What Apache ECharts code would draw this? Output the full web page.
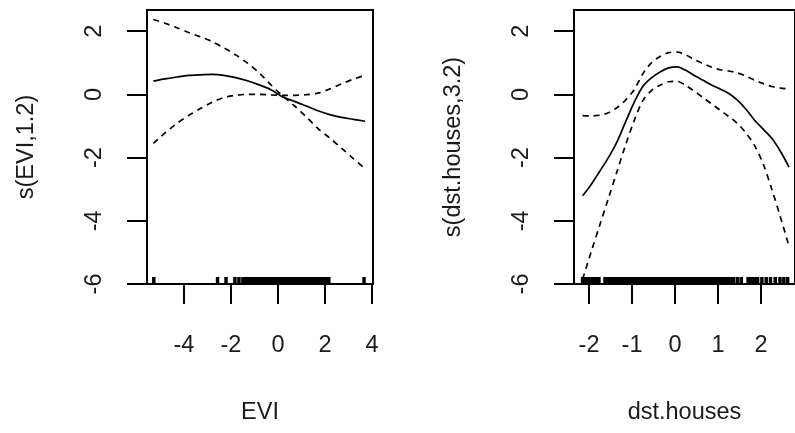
<!DOCTYPE html>
<html>
<head>
<meta charset="utf-8">
<script src="https://cdn.jsdelivr.net/npm/echarts@6/dist/echarts.min.js"></script>
<style>
  html, body { margin: 0; padding: 0; background: #fff; }
  #main { width: 795px; height: 433px; }
</style>
</head>
<body>
<div id="main"></div>
<script>
// left panel: s(EVI,1.2)
var eviX = [-5.3, -4.8, -4.3, -3.8, -3.3, -2.8, -2.3, -1.8, -1.3, -0.8, -0.3, 0.2, 0.7, 1.2, 1.7, 2.2, 2.7, 3.2, 3.7];
var eviFit = [0.42, 0.49, 0.55, 0.6, 0.62, 0.63, 0.6, 0.53, 0.43, 0.3, 0.15, -0.08, -0.22, -0.37, -0.52, -0.64, -0.73, -0.79, -0.85];
var eviUpper = [2.37, 2.25, 2.11, 1.96, 1.82, 1.67, 1.47, 1.25, 0.99, 0.68, 0.3, -0.05, -0.36, -0.71, -1.08, -1.38, -1.7, -2.03, -2.35];
var eviLower = [-1.55, -1.22, -0.92, -0.67, -0.45, -0.25, -0.1, -0.03, 0, 0, -0.02, -0.03, -0.03, -0.01, 0.04, 0.17, 0.33, 0.48, 0.6];
var eviRug = [-5.28, -2.57, -2.21, -1.83, -1.66,
  -1.49, -1.42, -1.35, -1.27, -1.2, -1.12, -1.05, -0.97, -0.9, -0.83, -0.75, -0.68, -0.6, -0.53,
  -0.45, -0.38, -0.3, -0.23, -0.15, -0.08, 0, 0.07, 0.15, 0.22, 0.3, 0.37, 0.45, 0.52, 0.6, 0.67,
  0.75, 0.82, 0.9, 0.97, 1.05, 1.12, 1.2, 1.27, 1.35, 1.42, 1.5, 1.57, 1.65, 1.72, 1.8, 1.87,
  1.95, 2.02, 2.1, 2.16, 3.66];
var eviTicks = [-4, -2, 0, 2, 4];

// right panel: s(dst.houses,3.2)
var dstX = [-2.15, -1.95, -1.75, -1.55, -1.35, -1.15, -0.95, -0.75, -0.55, -0.35, -0.15, 0.05, 0.25, 0.45, 0.65, 0.85, 1.05, 1.25, 1.45, 1.65, 1.85, 2.05, 2.25, 2.45, 2.65];
var dstFit = [-3.21, -2.85, -2.43, -2.0, -1.5, -0.87, -0.25, 0.25, 0.52, 0.71, 0.84, 0.87, 0.76, 0.6, 0.45, 0.3, 0.17, 0.03, -0.18, -0.47, -0.82, -1.1, -1.39, -1.8, -2.3];
var dstUpper = [-0.67, -0.68, -0.66, -0.58, -0.42, -0.18, 0.15, 0.65, 1.0, 1.2, 1.32, 1.34, 1.25, 1.1, 0.98, 0.86, 0.78, 0.74, 0.68, 0.58, 0.45, 0.34, 0.25, 0.2, 0.17];
var dstLower = [-5.85, -4.98, -4.13, -3.29, -2.44, -1.6, -0.83, -0.2, 0.12, 0.29, 0.4, 0.41, 0.28, 0.1, -0.1, -0.3, -0.5, -0.7, -0.92, -1.22, -1.62, -2.2, -3.0, -3.88, -4.8];
var dstRug = [-2.15, -2.1, -2.05, -2.0, -1.95, -1.9, -1.85, -1.8, -1.77,
  -1.63, -1.58, -1.53, -1.48, -1.43, -1.38, -1.33, -1.28, -1.23, -1.18, -1.13, -1.09,
  -1.03, -0.98, -0.93, -0.88, -0.83, -0.78, -0.73, -0.68, -0.63, -0.58, -0.53, -0.48, -0.43,
  -0.38, -0.33, -0.28, -0.23, -0.18, -0.13, -0.08, -0.03, 0.02, 0.07, 0.12, 0.17, 0.22, 0.27,
  0.32, 0.37, 0.42, 0.47, 0.52, 0.57, 0.62, 0.67, 0.72, 0.77, 0.82, 0.87, 0.92, 0.97, 1.02,
  1.07, 1.12, 1.17, 1.22, 1.27, 1.32, 1.36,
  1.45, 1.54, 1.7, 1.75, 1.8, 1.85, 1.92, 2.02, 2.12, 2.22, 2.33, 2.44, 2.53, 2.62];
var dstTicks = [-2, -1, 0, 1, 2];

var yTicks = [-6, -4, -2, 0, 2];

var FONT = '"Liberation Sans", Arial, sans-serif';
var TEXT = '#1a1a1a';

function pairs(xs, ys) {
  var out = [];
  for (var i = 0; i < xs.length; i++) {
    out.push([xs[i], ys[i]]);
  }
  return out;
}

function rugPoints(xs) {
  var out = [];
  for (var i = 0; i < xs.length; i++) {
    out.push([xs[i], -6]);
  }
  return out;
}

function xAxisFor(gridIndex, min, max, ticks, name) {
  return {
    type: 'value',
    gridIndex: gridIndex,
    min: min,
    max: max,
    name: name,
    nameLocation: 'middle',
    nameGap: 117,
    nameTextStyle: { fontFamily: FONT, fontSize: 23.5, color: TEXT },
    axisLine: { show: false, onZero: false },
    splitLine: { show: false },
    axisTick: {
      show: true,
      length: 20,
      customValues: ticks,
      lineStyle: { color: '#000', width: 2 }
    },
    axisLabel: {
      customValues: ticks,
      margin: 50,
      fontFamily: FONT,
      fontSize: 23.5,
      color: TEXT
    }
  };
}

function yAxisFor(gridIndex, name) {
  return {
    type: 'value',
    gridIndex: gridIndex,
    min: -6,
    max: 2.67,
    name: name,
    nameLocation: 'middle',
    nameGap: 108,
    nameTextStyle: { fontFamily: FONT, fontSize: 23.5, color: TEXT },
    axisLine: { show: false, onZero: false },
    splitLine: { show: false },
    axisTick: {
      show: true,
      length: 20,
      customValues: yTicks,
      lineStyle: { color: '#000', width: 2 }
    },
    axisLabel: {
      customValues: yTicks,
      rotate: 90,
      margin: 40,
      fontFamily: FONT,
      fontSize: 23.5,
      color: TEXT
    }
  };
}

function curve(idx, data, dashed) {
  return {
    type: 'line',
    xAxisIndex: idx,
    yAxisIndex: idx,
    data: data,
    showSymbol: false,
    smooth: 0.3,
    lineStyle: { color: '#000', width: 1.7, type: dashed ? [6, 5] : 'solid' }
  };
}

function rug(idx, xs) {
  return {
    type: 'scatter',
    xAxisIndex: idx,
    yAxisIndex: idx,
    data: rugPoints(xs),
    symbol: 'rect',
    symbolSize: [3.5, 7],
    symbolOffset: [0, -3.5],
    itemStyle: { color: '#000', opacity: 1 },
    clip: false
  };
}

var chart = echarts.init(document.getElementById('main'));
var option = {
  backgroundColor: '#fff',
  animation: false,
  grid: [
    { left: 147, top: 10, width: 226, height: 274, show: true, borderColor: '#000', borderWidth: 2, backgroundColor: 'transparent' },
    { left: 574, top: 10, width: 230, height: 274, show: true, borderColor: '#000', borderWidth: 2, backgroundColor: 'transparent' }
  ],
  xAxis: [
    xAxisFor(0, -5.57, 4.04, eviTicks, 'EVI'),
    xAxisFor(1, -2.35, 2.79, dstTicks, 'dst.houses')
  ],
  yAxis: [
    yAxisFor(0, 's(EVI,1.2)'),
    yAxisFor(1, 's(dst.houses,3.2)')
  ],
  series: [
    curve(0, pairs(eviX, eviFit), false),
    curve(0, pairs(eviX, eviUpper), true),
    curve(0, pairs(eviX, eviLower), true),
    rug(0, eviRug),
    curve(1, pairs(dstX, dstFit), false),
    curve(1, pairs(dstX, dstUpper), true),
    curve(1, pairs(dstX, dstLower), true),
    rug(1, dstRug)
  ]
};
chart.setOption(option);
</script>
</body>
</html>
